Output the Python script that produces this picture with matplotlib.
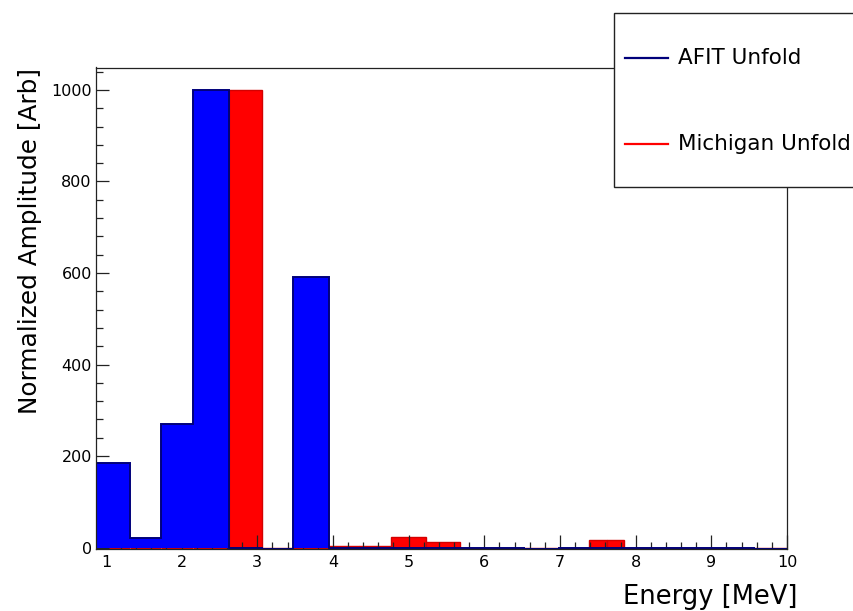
import numpy as np
import matplotlib.pyplot as plt
from matplotlib.patches import Rectangle
from matplotlib.lines import Line2D
from matplotlib.ticker import MultipleLocator

# ── Data ─────────────────────────────────────────────────────────────
edges = [0.869, 1.319, 1.725, 2.156, 2.628, 3.061, 3.466, 3.942, 4.35, 4.771,
         5.234, 5.684, 6.10, 6.521, 6.984, 7.39, 7.615, 7.844, 8.27, 8.70,
         9.13, 9.563, 10.0]
afit = [184, 20, 271, 1000, 0, -2, 591, 0, 0, 0,
        0, 0, 0, -2, 0, 0, 0, 0, 0, 0,
        0, -2]
michigan = [0, 0, 0, 0, 1000, 0, 0, 3, 3, 23,
            12, 0, 0, 0, 0, 17, 17, 0, 0, 0,
            0, 0]
labels = ["AFIT Unfold", "Michigan Unfold"]

plt.rcParams["font.family"] = ["DejaVu Sans"]

W, H = 854, 611
fig = plt.figure(figsize=(W / 100, H / 100), dpi=100)
ax = fig.add_axes([96 / W, 1 - 549 / H, (787 - 96) / W, (549 - 67.5) / H])

edges_a = np.array(edges)
widths = np.diff(edges_a)

# Michigan under the ticks, AFIT drawn over them
ax.bar(edges_a[:-1], michigan, width=widths, align="edge", color="#ff0000",
       edgecolor="#d40000", linewidth=1.0, zorder=1)
ax.stairs(afit, edges_a, fill=True, color="#0000ff", zorder=3)
ax.stairs(afit, edges_a, color="#00007a", linewidth=1.4, zorder=4)

ax.set_xlim(0.869, 10.0)
ax.set_ylim(-3, 1049)

ax.xaxis.set_major_locator(MultipleLocator(1))
ax.xaxis.set_minor_locator(MultipleLocator(0.2))
ax.yaxis.set_major_locator(MultipleLocator(200))
ax.yaxis.set_minor_locator(MultipleLocator(40))
ax.tick_params(axis="x", which="major", direction="in", length=10, width=0.9,
               pad=4, labelsize=11.5, color="#222222")
ax.tick_params(axis="x", which="minor", direction="in", length=5, width=0.9,
               color="#222222")
ax.tick_params(axis="y", which="major", direction="in", length=9.4, width=0.9,
               pad=3, labelsize=11.5, color="#222222")
ax.tick_params(axis="y", which="minor", direction="in", length=5, width=0.9,
               color="#222222")
for sp in ax.spines.values():
    sp.set_linewidth(0.9)
    sp.set_color("#222222")
    sp.set_zorder(5)

ax.set_xlabel("Energy [MeV]", fontsize=18.5, loc="right")
ax.xaxis.set_label_coords(1.0145, -0.072)
ax.set_ylabel("Normalized Amplitude [Arb]", fontsize=17.8, loc="top")
ax.yaxis.set_label_coords(-0.078, 1.0)

# ── Legend box (ROOT TLegend style, runs off the right edge) ─────────
box = Rectangle((614 / W, 1 - 187 / H), 260 / W, 174 / H,
                transform=fig.transFigure, facecolor="white",
                edgecolor="#222222", linewidth=1.0, zorder=10)
fig.add_artist(box)
for ypx, col, lab in [(58, "#00007a", labels[0]), (144, "#ff0000", labels[1])]:
    yf = 1 - ypx / H
    fig.add_artist(Line2D([625 / W, 668 / W], [yf, yf], transform=fig.transFigure,
                          color=col, linewidth=1.6, zorder=11))
    fig.text(678 / W, yf, lab, fontsize=15.5, va="center", ha="left", zorder=11)

fig.savefig("out.png", dpi=100)
